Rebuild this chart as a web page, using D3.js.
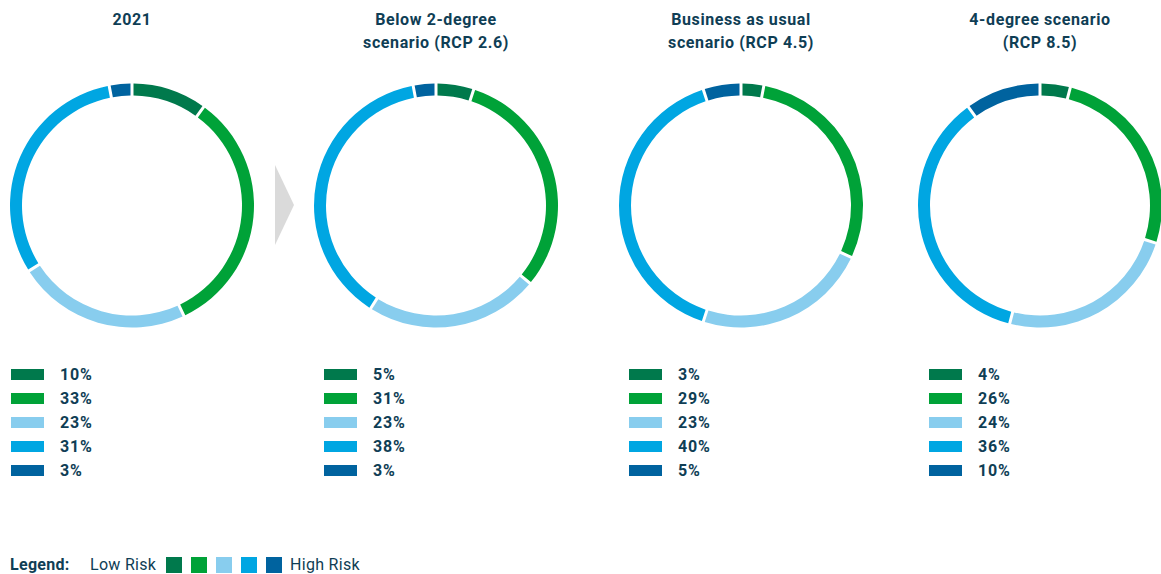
<!DOCTYPE html>
<html>
<head>
<meta charset="utf-8">
<script src="https://cdn.jsdelivr.net/npm/d3@7"></script>
<style>
  html, body { margin: 0; padding: 0; background: #ffffff; }
  svg { display: block; }
  text { font-family: Roboto, "Noto Sans", sans-serif; fill: #0f3e55; }
</style>
</head>
<body>
<svg id="chart" width="1161" height="574"></svg>
<script>
// Risk categories, low to high
const riskLevels = ["Very low", "Low", "Medium", "High", "Very high"];
const riskColors = ["#00794c", "#00a238", "#88cdee", "#00a6e2", "#00639f"];

// Panel titles (one entry per line)
const panelTitles = [
  ["2021"],
  ["Below 2-degree", "scenario (RCP 2.6)"],
  ["Business as usual", "scenario (RCP 4.5)"],
  ["4-degree scenario", "(RCP 8.5)"]
];

// Share of assets per risk level (%)
const share2021 = [10, 33, 23, 31, 3];
const shareRcp26 = [5, 31, 23, 38, 3];
const shareRcp45 = [3, 29, 23, 40, 5];
const shareRcp85 = [4, 26, 24, 36, 10];
const panelValues = [share2021, shareRcp26, shareRcp45, shareRcp85];

// Layout
const centersX = [132, 436, 741, 1040];
const centerY = 205.5;
const outerR = 122;
const ringW = 12;
const legendX = [11, 324, 629, 929];

const svg = d3.select("#chart");
const color = d3.scaleOrdinal().domain(riskLevels).range(riskColors);

const pie = d3.pie().sort(null).value(d => d.value);
const arc = d3.arc()
  .innerRadius(outerR - ringW)
  .outerRadius(outerR)
  .padRadius(outerR)
  .padAngle(3 / outerR);

panelValues.forEach((vals, i) => {
  const data = vals.map((v, k) => ({ level: riskLevels[k], value: v }));

  // Title
  const t = svg.append("text")
    .attr("x", centersX[i])
    .attr("y", 25)
    .attr("text-anchor", "middle")
    .style("font-size", "16px")
    .style("font-weight", "700")
    .style("letter-spacing", "0.6px");
  panelTitles[i].forEach((line, j) => {
    t.append("tspan").attr("x", centersX[i]).attr("dy", j === 0 ? 0 : 23).text(line);
  });

  // Donut ring
  svg.append("g")
    .attr("transform", `translate(${centersX[i]},${centerY})`)
    .selectAll("path")
    .data(pie(data))
    .join("path")
    .attr("d", arc)
    .attr("fill", d => color(d.data.level));

  // Value list below each ring
  const rowY = d3.scaleBand().domain(riskLevels).range([369, 369 + 24 * 5]).paddingInner(0);
  const list = svg.append("g");
  list.selectAll("rect")
    .data(data)
    .join("rect")
    .attr("x", legendX[i])
    .attr("y", d => rowY(d.level))
    .attr("width", 33)
    .attr("height", 11)
    .attr("fill", d => color(d.level));
  list.selectAll("text")
    .data(data)
    .join("text")
    .attr("x", legendX[i] + 49)
    .attr("y", d => rowY(d.level) + 11)
    .style("font-size", "16px")
    .style("font-weight", "700")
    .style("letter-spacing", "0.8px")
    .text(d => d.value + "%");
});

// Arrow between the 2021 ring and the scenarios
svg.append("path")
  .attr("d", "M275,165 L294,205 L275,245 Z")
  .attr("fill", "#dadada");

// Bottom legend
const legendG = svg.append("g");
legendG.append("text")
  .attr("x", 10).attr("y", 570)
  .style("font-size", "16px").style("font-weight", "700")
  .style("letter-spacing", "0.3px")
  .text("Legend:");
legendG.append("text")
  .attr("x", 90).attr("y", 570)
  .style("font-size", "16px").style("font-weight", "400")
  .style("letter-spacing", "0.3px")
  .text("Low Risk");
const swX = d3.scaleBand().domain(riskLevels).range([166, 166 + 25 * 5]);
legendG.selectAll("rect")
  .data(riskLevels)
  .join("rect")
  .attr("x", d => swX(d))
  .attr("y", 557)
  .attr("width", 16)
  .attr("height", 16)
  .attr("fill", d => color(d));
legendG.append("text")
  .attr("x", 290).attr("y", 570)
  .style("font-size", "16px").style("font-weight", "400")
  .style("letter-spacing", "0.3px")
  .text("High Risk");
</script>
</body>
</html>
